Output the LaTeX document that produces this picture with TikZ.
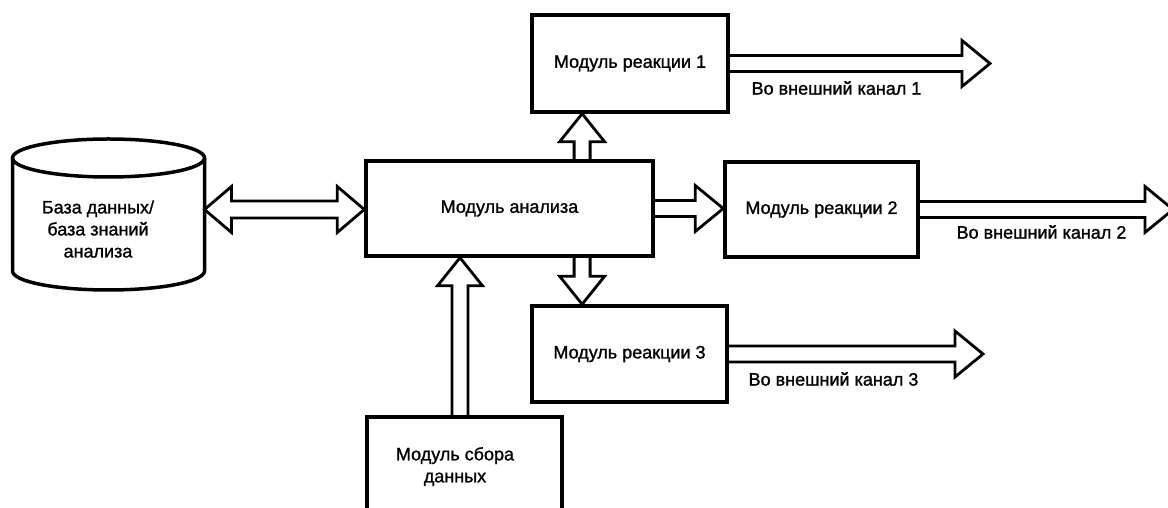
\documentclass[tikz,border=0pt]{standalone}
\usepackage{fontspec}
\setmainfont{Liberation Sans}[BoldFont=Liberation Sans, BoldFeatures={FakeBold=1.2}]
\usetikzlibrary{calc}
\newcommand{\blkR}[2]{%
  \draw[blk] let \p1=(#1), \p2=(#2) in
    (\x1,\y1+8pt) -- (\x2-28pt,\y1+8pt) -- (\x2-28pt,\y1+23pt) -- (\x2,\y1)
    -- (\x2-28pt,\y1-23pt) -- (\x2-28pt,\y1-8pt) -- (\x1,\y1-8pt);}
\newcommand{\blkLR}[2]{%
  \draw[blk] let \p1=(#1), \p2=(#2) in
    (\x1,\y1) -- (\x1+27pt,\y1+23pt) -- (\x1+27pt,\y1+8.5pt) -- (\x2-27pt,\y1+8.5pt)
    -- (\x2-27pt,\y1+23pt) -- (\x2,\y1) -- (\x2-27pt,\y1-23pt) -- (\x2-27pt,\y1-8.5pt)
    -- (\x1+27pt,\y1-8.5pt) -- (\x1+27pt,\y1-23pt) -- cycle;}
\newcommand{\blkU}[2]{%
  \draw[blk] let \p1=(#1), \p2=(#2) in
    (\x1-8pt,\y1) -- (\x1-8pt,\y2-28pt) -- (\x1-22.5pt,\y2-28pt) -- (\x1,\y2)
    -- (\x1+22.5pt,\y2-28pt) -- (\x1+8pt,\y2-28pt) -- (\x1+8pt,\y1);}
\newcommand{\blkD}[2]{%
  \draw[blk] let \p1=(#1), \p2=(#2) in
    (\x1-8pt,\y1) -- (\x1-8pt,\y2+28pt) -- (\x1-22.5pt,\y2+28pt) -- (\x1,\y2)
    -- (\x1+22.5pt,\y2+28pt) -- (\x1+8pt,\y2+28pt) -- (\x1+8pt,\y1);}
\begin{document}
\begin{tikzpicture}[x=1pt,y=1pt,
  font=\fontsize{18}{22}\selectfont\bfseries,
  edge/.style={line width=3.5pt},
  box/.style={draw, line width=3.5pt, inner sep=0pt, align=center},
  blk/.style={draw, line width=2.8pt, line join=miter},
  lbl/.style={inner sep=0pt}]
\clip (0,0) rectangle (1168,508);
\fill[white] (0,0) rectangle (1168,508);
% database cylinder
\draw[edge] (12.5,350) -- (12.5,237) arc[start angle=180,end angle=360,x radius=96,y radius=19] -- (204.5,350);
\draw[edge] (108.5,350) ellipse[x radius=96,y radius=19];
\node[align=center, inner sep=0pt] (db) at (98,279) {База данных/\\база знаний\\анализа};
\coordinate (dbE) at (204.5,298.5);
% boxes
\node[box, minimum width=287pt, minimum height=95pt] (an) at (509.5,299.5) {Модуль анализа};
\node[box, minimum width=196pt, minimum height=97pt] (r1) at (630,444.5) {Модуль реакции 1};
\node[box, minimum width=193pt, minimum height=95pt] (r2) at (821.5,298.5) {Модуль реакции 2};
\node[box, minimum width=195pt, minimum height=96pt] (r3) at (629.5,154) {Модуль реакции 3};
\node[box, minimum width=195pt, minimum height=130pt] (dc) at (464.5,26) {};
\node[align=center, inner sep=0pt] (dct) at (455,41.5) {Модуль сбора\\данных};
% labels
\node[lbl] (l1) at (836.5,420) {Во внешний канал 1};
\node[lbl] (l2) at (1041.5,276) {Во внешний канал 2};
\node[lbl] (l3) at (833.5,129) {Во внешний канал 3};
% free ends
\coordinate (t1) at (990,443);
\coordinate (t2) at (1173,299.5);
\coordinate (t3) at (983,153.5);
\coordinate (aUp) at ($(an.north west)!0.75!(an.north east)$);
\coordinate (aDn) at ($(an.south west)!0.75!(an.south east)$);
\coordinate (dUp) at ($(dc.north)+(-4.5,0)$);
% arrows
\blkLR{dbE}{an.west}
\blkR{an.east}{r2.west}
\blkR{r1.east}{t1}
\blkR{r2.east}{t2}
\blkR{r3.east}{t3}
\blkU{aUp}{r1.south}
\blkD{aDn}{r3.north}
\blkU{dUp}{an.south}
\end{tikzpicture}
\end{document}
